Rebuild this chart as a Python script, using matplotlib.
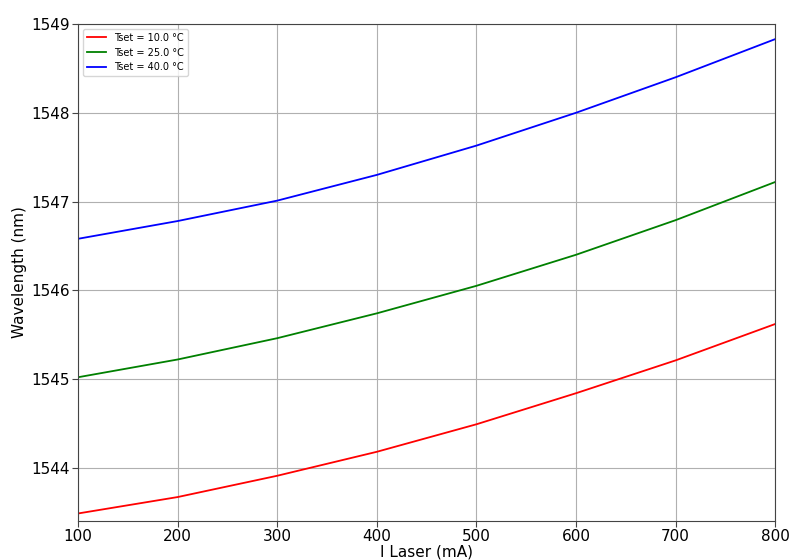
import matplotlib
matplotlib.use("Agg")
import matplotlib.pyplot as plt

current_ma = [100, 200, 300, 400, 500, 600, 700, 800]
wl_10 = [1543.485, 1543.67, 1543.91, 1544.18, 1544.49, 1544.84, 1545.21, 1545.62]
wl_25 = [1545.02, 1545.22, 1545.46, 1545.74, 1546.05, 1546.40, 1546.79, 1547.22]
wl_40 = [1546.58, 1546.78, 1547.01, 1547.30, 1547.63, 1548.00, 1548.40, 1548.83]
labels = ["Tset = 10.0 °C", "Tset = 25.0 °C", "Tset = 40.0 °C"]
colors = ["red", "green", "blue"]

fig = plt.figure(figsize=(8, 5.6), dpi=100)
ax = fig.add_axes([0.0975, 0.0696, 0.8715, 0.8875])
for ys, lab, c in zip([wl_10, wl_25, wl_40], labels, colors):
    ax.plot(current_ma, ys, color=c, lw=1.3, label=lab)

ax.set_xlim(100, 800)
ax.set_ylim(1543.4, 1549)
ax.set_xticks([100, 200, 300, 400, 500, 600, 700, 800])
ax.set_yticks([1544, 1545, 1546, 1547, 1548, 1549])
ax.tick_params(labelsize=11, length=4, pad=2, color="#444444")
for s in ax.spines.values():
    s.set_color("#444444")
ax.yaxis.get_major_formatter().set_useOffset(False)
ax.grid(True, color="#b0b0b0", lw=0.8)
ax.set_xlabel("I Laser (mA)", fontsize=11, labelpad=0)
ax.set_ylabel("Wavelength (nm)", fontsize=11, labelpad=3)
ax.legend(loc="upper left", fontsize=7)
fig.savefig("out.png", dpi=100)
